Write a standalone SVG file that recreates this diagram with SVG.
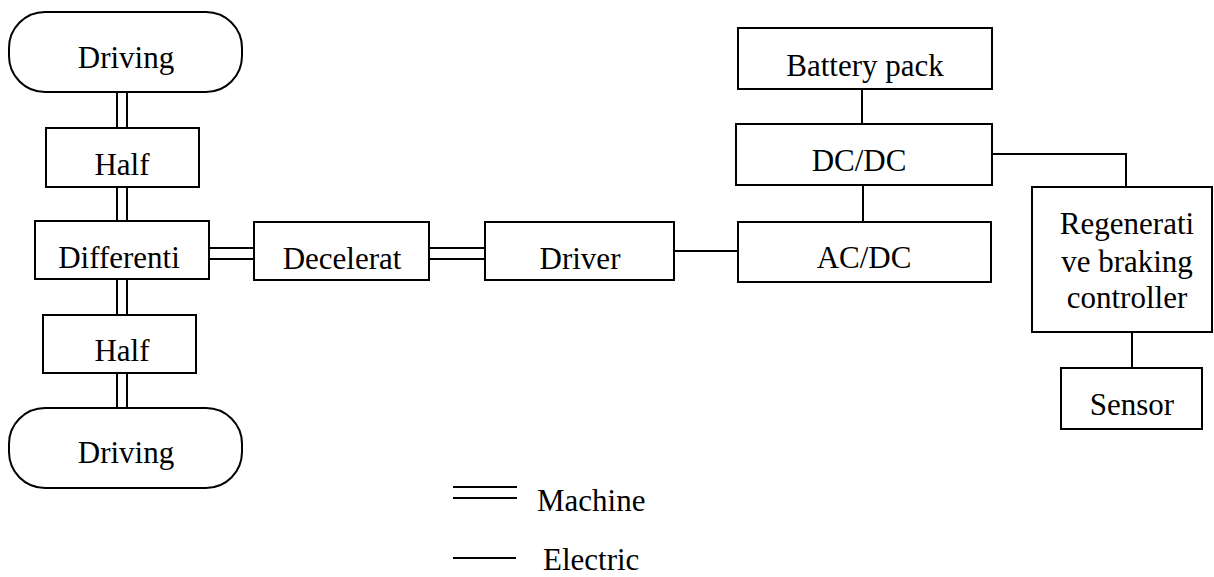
<svg xmlns="http://www.w3.org/2000/svg" width="1214" height="577" viewBox="0 0 1214 577">
<style>
.box{fill:#fff;stroke:#000;stroke-width:2}
.ln{fill:none;stroke:#000;stroke-width:2}
.c{text-anchor:middle}
</style>
<rect width="1214" height="577" fill="#fff"/>
<g id="connectors">
<line class="ln" x1="117" y1="92" x2="117" y2="128"/><line class="ln" x1="127" y1="92" x2="127" y2="128"/>
<line class="ln" x1="117" y1="187" x2="117" y2="221"/><line class="ln" x1="127" y1="187" x2="127" y2="221"/>
<line class="ln" x1="117" y1="279" x2="117" y2="315"/><line class="ln" x1="127" y1="279" x2="127" y2="315"/>
<line class="ln" x1="117" y1="373" x2="117" y2="408"/><line class="ln" x1="127" y1="373" x2="127" y2="408"/>
<line class="ln" x1="209" y1="248" x2="254" y2="248"/><line class="ln" x1="209" y1="259" x2="254" y2="259"/>
<line class="ln" x1="429" y1="248" x2="485" y2="248"/><line class="ln" x1="429" y1="259" x2="485" y2="259"/>
<line class="ln" x1="674" y1="251" x2="738" y2="251"/>
<line class="ln" x1="862" y1="89" x2="862" y2="124"/>
<line class="ln" x1="863" y1="185" x2="863" y2="222"/>
<polyline class="ln" points="992,154 1126,154 1126,187"/>
<line class="ln" x1="1132" y1="332" x2="1132" y2="368"/>
</g>
<g font-family="'Liberation Serif', 'DejaVu Serif', 'Times New Roman', serif" font-size="31" fill="#000">
<g id="driving-top"><rect class="box" x="9" y="12" width="233" height="80" rx="36" ry="36"/><text class="c" x="126" y="68">Driving</text></g>
<g id="half-top"><rect class="box" x="46" y="128" width="153" height="59"/><text class="c" x="122" y="175">Half</text></g>
<g id="differential"><rect class="box" x="35" y="221" width="174" height="58"/><text class="c" x="119" y="268">Differenti</text></g>
<g id="half-bottom"><rect class="box" x="43" y="315" width="153" height="58"/><text class="c" x="122" y="361">Half</text></g>
<g id="driving-bottom"><rect class="box" x="9" y="408" width="233" height="80" rx="36" ry="36"/><text class="c" x="126" y="463">Driving</text></g>
<g id="decelerator"><rect class="box" x="254" y="222" width="175" height="58"/><text class="c" x="342" y="269">Decelerat</text></g>
<g id="driver"><rect class="box" x="485" y="222" width="189" height="58"/><text class="c" x="580" y="269">Driver</text></g>
<g id="acdc"><rect class="box" x="738" y="222" width="253" height="60"/><text class="c" x="864" y="268">AC/DC</text></g>
<g id="dcdc"><rect class="box" x="736" y="124" width="256" height="61"/><text class="c" x="859" y="171">DC/DC</text></g>
<g id="battery"><rect class="box" x="738" y="28" width="254" height="61"/><text class="c" x="865" y="76">Battery pack</text></g>
<g id="regen"><rect class="box" x="1032" y="187" width="180" height="145"/><text class="c" x="1127" y="234">Regenerati</text><text class="c" x="1127" y="272">ve braking</text><text class="c" x="1127" y="308">controller</text></g>
<g id="sensor"><rect class="box" x="1061" y="368" width="141" height="61"/><text class="c" x="1132" y="415">Sensor</text></g>
<g id="legend">
<line class="ln" x1="453" y1="487" x2="517" y2="487"/><line class="ln" x1="453" y1="498" x2="517" y2="498"/>
<text x="537" y="511">Machine</text>
<line class="ln" x1="453" y1="558" x2="516" y2="558"/>
<text x="543" y="570">Electric</text>
</g>
</g>
</svg>
